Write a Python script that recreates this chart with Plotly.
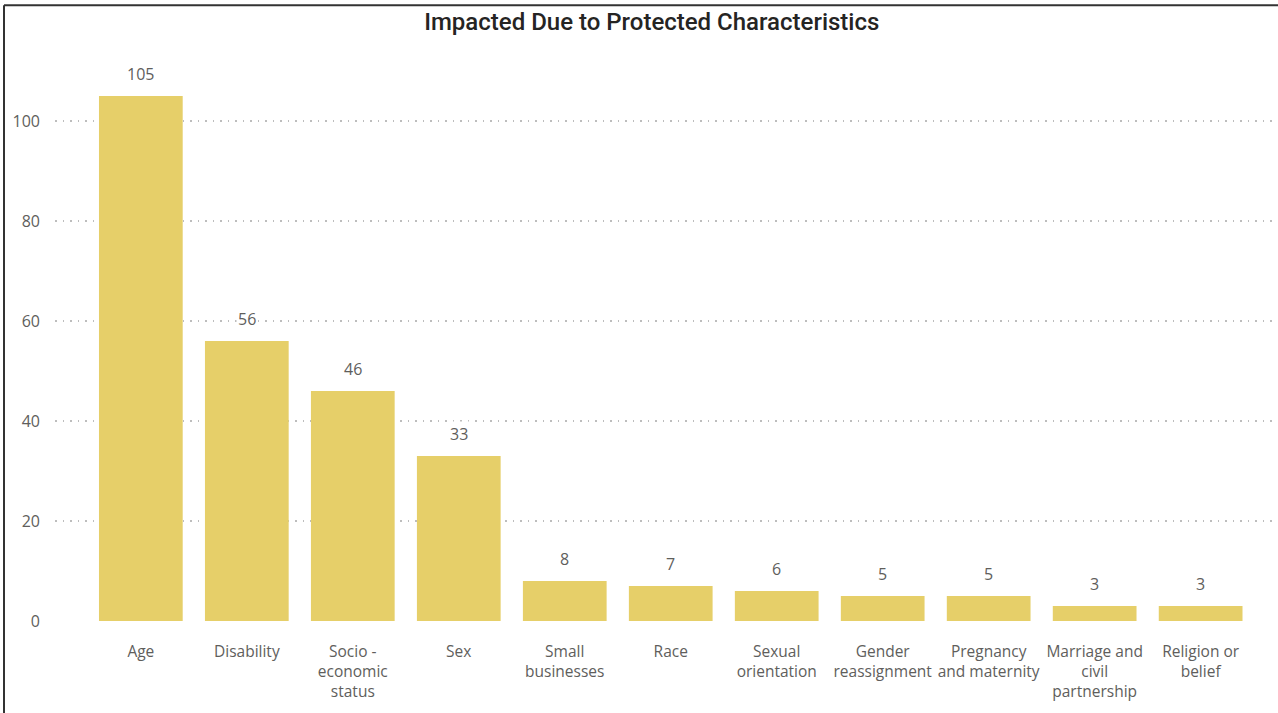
import plotly.graph_objects as go

# categories and counts
categories = ["Age", "Disability", "Socio -<br>economic<br>status", "Sex", "Small<br>businesses",
              "Race", "Sexual<br>orientation", "Gender<br>reassignment", "Pregnancy<br>and maternity",
              "Marriage and<br>civil<br>partnership", "Religion or<br>belief"]
counts = [105, 56, 46, 33, 8, 7, 6, 5, 5, 3, 3]
y_ticks = [0, 20, 40, 60, 80, 100]

bar_color = "#E6CF69"
label_color = "#605E5C"

fig = go.Figure(go.Bar(
    x=categories,
    y=counts,
    marker_color=bar_color,
    marker_line_width=0,
    hoverinfo="x+y",
))

# data labels above each bar (white box hides the gridline behind the number)
for cat, val in zip(categories, counts):
    fig.add_annotation(x=cat, y=val, text=str(val), showarrow=False,
                       yanchor="bottom", yshift=9, bgcolor="white",
                       font=dict(size=16, color=label_color))

fig.update_layout(
    width=1278, height=713,
    paper_bgcolor="white", plot_bgcolor="white",
    margin=dict(l=55, r=0, t=55, b=92),
    bargap=0.21,
    showlegend=False,
    font=dict(family="Open Sans, Noto Sans, sans-serif", color=label_color),
    title=dict(text="Impacted Due to Protected Characteristics", x=0.51, xanchor="center",
               y=1 - 22 / 713, yanchor="middle",
               font=dict(family="Roboto, sans-serif", size=24, weight=500, color="#252423")),
)

fig.update_xaxes(range=[-0.81, 10.73], showgrid=False, showline=False, ticks="",
                 tickfont=dict(size=15.5, color=label_color), ticklabelstandoff=19)
fig.update_yaxes(range=[0, 113.2], tickvals=y_ticks, showline=False, zeroline=False,
                 showgrid=True, gridcolor="#BDBDBD", griddash="1.5px,6px", gridwidth=1.5,
                 tickfont=dict(size=16, color=label_color), ticklabelstandoff=14)

# frame lines along the top and left edge of the visual
fig.add_shape(type="line", xref="paper", yref="paper", x0=-0.0417, x1=1.01, y0=1.088, y1=1.088,
              line=dict(color="#333333", width=2))
fig.add_shape(type="line", xref="paper", yref="paper", x0=-0.0417, x1=-0.0417, y0=-0.2, y1=1.088,
              line=dict(color="#333333", width=2))

fig.write_html("out.html", config={"displayModeBar": False},
               post_script="document.body.style.margin='0';")
